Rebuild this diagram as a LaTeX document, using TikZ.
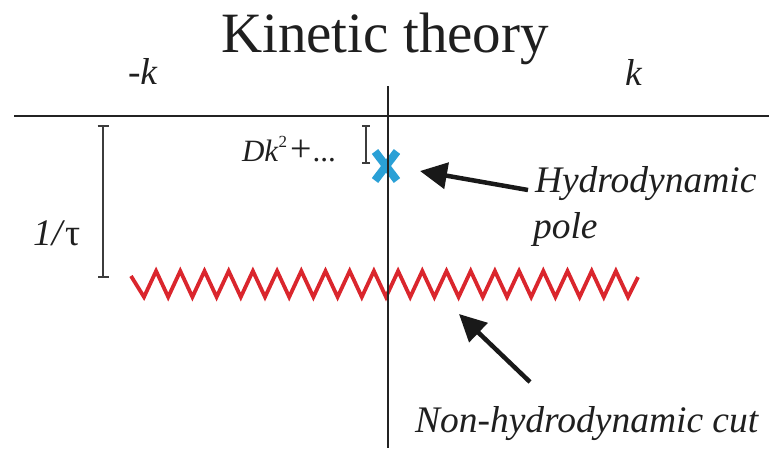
\documentclass[tikz,border=0pt]{standalone}
\usepackage{fontspec}
\setmainfont{Liberation Serif}
\usetikzlibrary{arrows.meta,shapes.misc}
\definecolor{axisgray}{RGB}{35,35,35}
\definecolor{bargray}{RGB}{60,60,60}
\definecolor{cutred}{RGB}{218,38,45}
\definecolor{poleblue}{RGB}{42,160,214}
\begin{document}
\begin{tikzpicture}[x=1pt,y=-1pt,
  txt/.style={inner sep=0pt,outer sep=0pt,anchor=base west,text=black!88},
  big/.style={txt,font=\fontsize{37.5}{40}\selectfont\itshape},
  axis/.style={line width=2.4pt,draw=axisgray},
  bar/.style={line width=1.8pt,draw=bargray,{Bar[width=11pt]}-{Bar[width=11pt]}},
  smallbar/.style={line width=1.6pt,draw=bargray,{Bar[width=8pt]}-{Bar[width=8pt]}},
  cut/.style={line width=3.8pt,draw=cutred,line join=miter},
  pointer/.style={line width=4.5pt,draw=black!90,-{Triangle[length=27pt,width=26pt]}}]
\useasboundingbox (0,0) rectangle (769,448);

% title and axis labels
\node[txt,anchor=base,font=\fontsize{57}{60}\selectfont] (title) at (385,52) {Kinetic theory};
\node[big] (mk) at (128,84) {-k};
\node[big] (pk) at (625,85) {k};

% pole (blue cross)
\node[cross out,draw=poleblue,line width=8pt,minimum width=22pt,minimum height=29pt,inner sep=0pt,outer sep=0pt] (pole) at (386,166) {};

% non-hydrodynamic cut
\draw[cut] (131,276) \foreach \k in {0,...,19} { -- ({144+24.2*\k},297) -- ({156.1+24.2*\k},271) } -- (628,297) -- (638,277);

% axes
\coordinate (xl) at (14,116);
\coordinate (xr) at (769,116);
\coordinate (yt) at (388,86);
\coordinate (yb) at (388,448);
\draw[axis] (xl) -- (xr);
\draw[axis] (yt) -- (yb);

% scale bars
\coordinate (b1t) at (103,125);
\coordinate (b1b) at (103,278);
\draw[bar] (b1t) -- (b1b);
\node[big,font=\fontsize{37.5}{40}\selectfont] (tau) at (33,245) {\textit{1/}τ};

\coordinate (b2t) at (366,125);
\coordinate (b2b) at (366,164);
\draw[smallbar] (b2t) -- (b2b);
\node[txt,font=\fontsize{31}{33}\selectfont] (disp) at (242,161) {\textit{Dk}\raisebox{0.45em}{\fontsize{17}{18}\selectfont 2}\hspace{3pt}{\fontsize{38}{40}\selectfont +}\hspace{1pt}...};

% labels with pointers
\node[big] (hydro) at (535,192) {Hydrodynamic};
\node[big] (polelab) at (533,238) {pole};
\node[big] (nonhydro) at (415,432) {Non-hydrodynamic cut};

\coordinate (a1s) at (528,190);
\coordinate (a1e) at (420,171);
\draw[pointer] (a1s) -- (a1e);
\coordinate (a2s) at (530,382);
\coordinate (a2e) at (459,314);
\draw[pointer] (a2s) -- (a2e);
\end{tikzpicture}
\end{document}
